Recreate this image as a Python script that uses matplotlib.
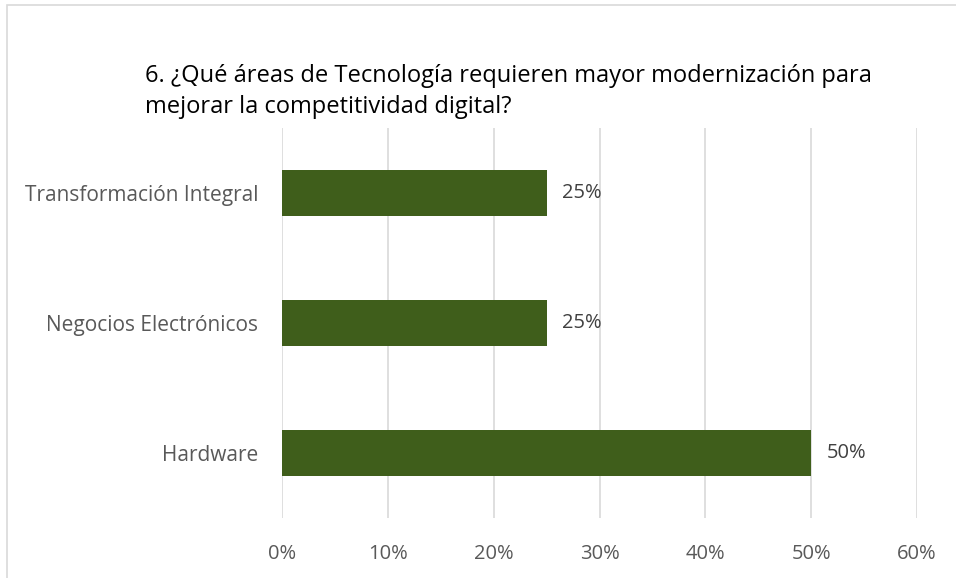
import matplotlib
matplotlib.use("Agg")
import matplotlib.pyplot as plt
from matplotlib.patches import Rectangle
from matplotlib.ticker import PercentFormatter

categories = ["Hardware", "Negocios Electrónicos", "Transformación Integral"]
values = [50, 25, 25]
x_ticks = [0, 10, 20, 30, 40, 50, 60]
title = "6. ¿Qué áreas de Tecnología requieren mayor modernización para\nmejorar la competitividad digital?"

W, H = 956, 578
plt.rcParams["font.family"] = ["Open Sans", "DejaVu Sans"]
fig = plt.figure(figsize=(W / 100, H / 100), dpi=100)

# chart frame
fig.patches.append(Rectangle((7 / W, -0.1), 1.2, 1 - 5 / H + 0.1, transform=fig.transFigure,
                             fill=False, edgecolor="#D9D9D9", linewidth=1.2))

ax = fig.add_axes([282 / W, 1 - 518 / H, (917 - 282) / W, (518 - 128) / H])
ax.barh(range(len(categories)), values, height=0.354, color="#3F5E1B", zorder=3)
for i, v in enumerate(values):
    ax.text(v + 1.5, i, f"{v}%", va="center", ha="left", fontsize=14.5, color="#404040")

ax.set_xlim(0, 60)
ax.set_ylim(-0.5, len(categories) - 0.5)
ax.set_xticks(x_ticks)
ax.xaxis.set_major_formatter(PercentFormatter(decimals=0))
ax.set_yticks(range(len(categories)))
ax.set_yticklabels(categories)
ax.tick_params(axis="both", length=0, labelsize=14.5, labelcolor="#595959")
ax.tick_params(axis="y", labelsize=15)
ax.tick_params(axis="x", pad=19)
ax.tick_params(axis="y", pad=17)
ax.grid(axis="x", color="#D9D9D9", linewidth=1.2, zorder=0)
for s in ax.spines.values():
    s.set_visible(False)

fig.text(145 / W, 1 - 64 / H, title, ha="left", va="top", fontsize=17, color="#000000",
         linespacing=1.4)

fig.savefig("out.png", dpi=100)
